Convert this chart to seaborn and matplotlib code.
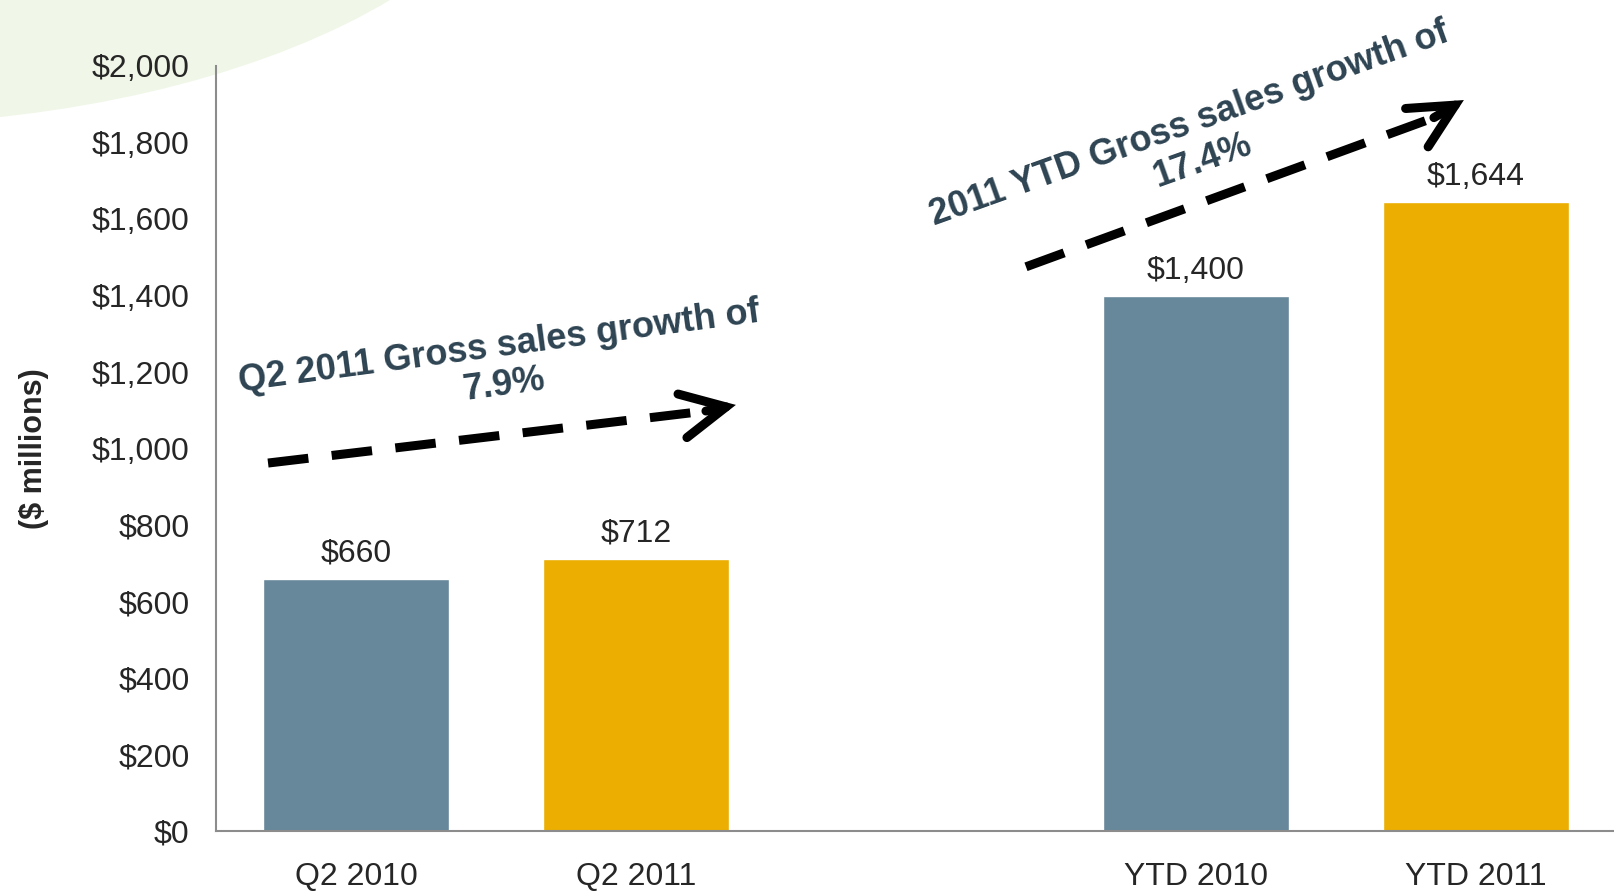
import seaborn as sns
import matplotlib.pyplot as plt
import pandas as pd
from matplotlib.patches import Ellipse

# Dati
categories = ["Q2 2010", "Q2 2011", "gap", "YTD 2010", "YTD 2011"]
bar_cats = ["Q2 2010", "Q2 2011", "YTD 2010", "YTD 2011"]
sales = [660, 712, 1400, 1644]
tick_labels = ["Q2 2010", "Q2 2011", "", "YTD 2010", "YTD 2011"]
yticks = list(range(0, 2001, 200))

blue = "#67879A"
gold = "#ECAE00"
palette = {"Q2 2010": blue, "Q2 2011": gold, "YTD 2010": blue, "YTD 2011": gold}
note_color = "#2E4452"
axis_gray = "#8C8C8C"

df = pd.DataFrame({"period": bar_cats, "sales": sales})

sns.set_style("white")
plt.rcParams["font.family"] = ["Liberation Sans", "DejaVu Sans"]

fig = plt.figure(figsize=(16.14, 8.93), dpi=100)

# decorazione verde in alto a sinistra
fig.patches.append(Ellipse((-0.093, 1.244), 0.867, 0.768, transform=fig.transFigure,
                           facecolor="#F0F7E8", edgecolor="none", zorder=-10))

ax = fig.add_axes([0.1338, 0.0694, 0.8674, 0.8567])
ax.patch.set_alpha(0)

sns.barplot(data=df, x="period", y="sales", hue="period", order=categories,
            hue_order=bar_cats, palette=palette, width=0.665, legend=False,
            saturation=1, ax=ax)

for c in ax.containers:
    ax.bar_label(c, fmt=lambda v: f"${v:,.0f}", padding=7, fontsize=23)

ax.set_xlim(-0.5, 4.5)
ax.set_ylim(0, 2000)
ax.set_yticks(yticks)
ax.set_yticklabels([f"${v:,}" for v in yticks])
ax.set_xticks(range(len(categories)))
ax.set_xticklabels(tick_labels)
ax.set_xticks([i - 0.5 for i in range(len(categories) + 1)], minor=True)
ax.tick_params(axis="x", which="major", length=0, pad=22, labelsize=23)
ax.tick_params(axis="x", which="minor", length=7, width=1.3, color=axis_gray, direction="out")
ax.tick_params(axis="y", length=7, width=1.3, color=axis_gray, direction="out", pad=12, labelsize=23)
ax.set_xlabel("")
ax.set_ylabel("($ millions)", fontsize=22, fontweight="bold", labelpad=31)

for s in ["top", "right"]:
    ax.spines[s].set_visible(False)
for s in ["left", "bottom"]:
    ax.spines[s].set_color(axis_gray)
    ax.spines[s].set_linewidth(1.5)

# frecce tratteggiate
arrows = [((-0.314, 962), (1.25, 1098), (1.357, 1114)),
          ((2.393, 1475), (3.85, 1865), (3.957, 1911))]
for start, near, tip in arrows:
    ax.plot([start[0], near[0]], [start[1], near[1]], color="black", lw=6.5,
            linestyle=(0, (4.5, 2.6)), solid_capstyle="butt", clip_on=False)
    ax.annotate("", xy=tip, xytext=near,
                arrowprops=dict(arrowstyle="->,head_length=1.6,head_width=0.8",
                                lw=6.5, color="black", shrinkA=0, shrinkB=0,
                                mutation_scale=20, capstyle="round",
                                joinstyle="miter"),
                annotation_clip=False)

ax.text(0.52, 1215, "Q2 2011 Gross sales growth of\n7.9%", rotation=7.6,
        rotation_mode="anchor", ha="center", va="center", fontsize=26,
        fontweight="bold", color=note_color, linespacing=1.15)
ax.text(3.0, 1800, "2011 YTD Gross sales growth of\n17.4%", rotation=19.7,
        rotation_mode="anchor", ha="center", va="center", fontsize=26,
        fontweight="bold", color=note_color, linespacing=1.15)

fig.savefig("out.png", dpi=100)
